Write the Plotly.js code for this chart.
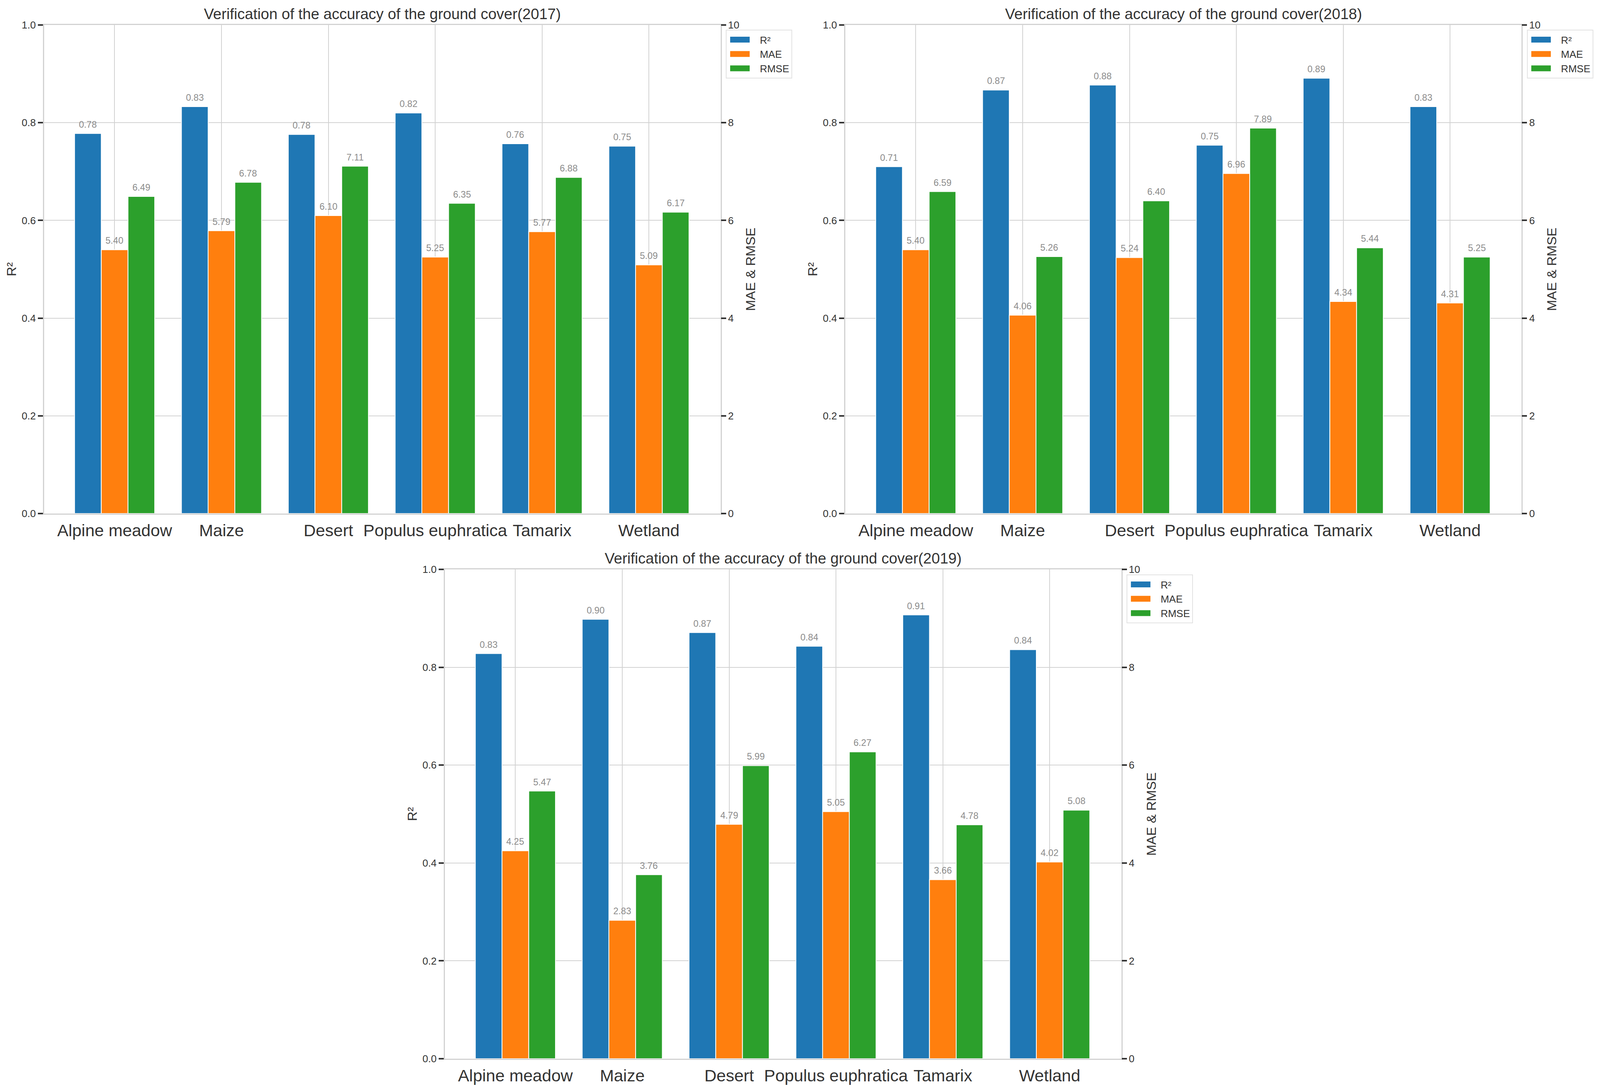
<!DOCTYPE html>
<html>
<head>
<meta charset="utf-8">
<script src="https://cdn.plot.ly/plotly-3.0.1.min.js"></script>
<style>
  html, body { margin: 0; padding: 0; background: #fff; overflow: hidden; }
</style>
</head>
<body>
<div id="chart"></div>
<script>
var categories = ['Alpine meadow', 'Maize', 'Desert', 'Populus euphratica', 'Tamarix', 'Wetland'];
var years = ['2017', '2018', '2019'];

var r2_2017 = [0.778, 0.833, 0.776, 0.820, 0.757, 0.752];
var mae_2017 = [5.40, 5.79, 6.10, 5.25, 5.77, 5.09];
var rmse_2017 = [6.49, 6.78, 7.11, 6.35, 6.88, 6.17];

var r2_2018 = [0.710, 0.867, 0.877, 0.754, 0.891, 0.833];
var mae_2018 = [5.40, 4.06, 5.24, 6.96, 4.34, 4.31];
var rmse_2018 = [6.59, 5.26, 6.40, 7.89, 5.44, 5.25];

var r2_2019 = [0.828, 0.898, 0.871, 0.843, 0.907, 0.836];
var mae_2019 = [4.25, 2.83, 4.79, 5.05, 3.66, 4.02];
var rmse_2019 = [5.47, 3.76, 5.99, 6.27, 4.78, 5.08];

// the browser viewport can come out narrower than the 4208 asked for, so fit to it
var W = Math.min(window.innerWidth, 4208), H = 2786;
var FONT = '"Liberation Sans", Arial, sans-serif';
var blue = '#1f77b4', orange = '#ff7f0e', green = '#2ca02c';
var frame = '#d2d2d2';

// pixel boxes of the three panels in the 4208 wide reference
var panels = [
  {l: 116, r: 1895, t: 64, b: 1315, lx: 1909, ly: 76},
  {l: 2223, r: 4002, t: 64, b: 1315, lx: 4016, ly: 76},
  {l: 1170, r: 2949, t: 1458, b: 2711, lx: 2963, ly: 1471}
];
var series = [
  [r2_2017, mae_2017, rmse_2017],
  [r2_2018, mae_2018, rmse_2018],
  [r2_2019, mae_2019, rmse_2019]
];
var names = ['R²', 'MAE', 'RMSE'];
var colors = [blue, orange, green];
var offsets = [-0.375, -0.125, 0.125];

var data = [];
var annotations = [];
var layout = {
  width: W,
  height: H,
  margin: {l: 0, r: 0, t: 0, b: 0, pad: 0},
  paper_bgcolor: '#fff',
  plot_bgcolor: '#fff',
  barmode: 'overlay',
  font: {family: FONT, color: '#333'},
  annotations: annotations
};

panels.forEach(function (p, i) {
  var xname = i === 0 ? 'x' : 'x' + (i + 1);
  var yLeft = i === 0 ? 'y' : 'y' + (i * 2 + 1);
  var yRight = 'y' + (i * 2 + 2);
  var legendName = i === 0 ? 'legend' : 'legend' + (i + 1);

  series[i].forEach(function (vals, k) {
    var yref = k === 0 ? yLeft : yRight;
    data.push({
      type: 'bar',
      name: names[k],
      x: categories.map(function (c, n) { return n; }),
      y: vals,
      width: 0.25,
      offset: offsets[k],
      xaxis: xname,
      yaxis: yref,
      legend: legendName,
      marker: {color: colors[k], line: {color: '#fff', width: 2}},
      hoverinfo: 'y'
    });
    vals.forEach(function (v, n) {
      annotations.push({
        x: n + offsets[k] + 0.125,
        y: v,
        xref: xname,
        yref: yref,
        text: v.toFixed(2),
        showarrow: false,
        yanchor: 'bottom',
        yshift: 8,
        font: {size: 23.5, color: '#8c8c8c', family: FONT}
      });
    });
  });

  annotations.push({
    xref: 'paper', yref: 'paper',
    x: (p.l + p.r) / 2 / 4208,
    y: 1 - (p.t - 5) / H,
    xanchor: 'center', yanchor: 'bottom',
    showarrow: false,
    text: 'Verification of the accuracy of the ground cover(' + years[i] + ')',
    font: {size: 38.5, color: '#333', family: FONT}
  });

  var domainX = [p.l / 4208, p.r / 4208];
  var domainY = [1 - p.b / H, 1 - p.t / H];

  layout[i === 0 ? 'xaxis' : 'xaxis' + (i + 1)] = {
    domain: domainX,
    anchor: yLeft,
    range: [-0.66, 5.67],
    tickmode: 'array',
    tickvals: categories.map(function (c, n) { return n; }),
    ticktext: categories,
    tickangle: 0,
    tickfont: {size: 43, color: '#333'},
    ticks: '',
    ticklabelstandoff: 3,
    showgrid: true,
    gridcolor: frame,
    gridwidth: 2,
    showline: true,
    linecolor: frame,
    linewidth: 3,
    mirror: true,
    zeroline: false
  };
  layout[i === 0 ? 'yaxis' : 'yaxis' + (i * 2 + 1)] = {
    domain: domainY,
    anchor: xname,
    range: [0, 1],
    dtick: 0.2,
    tickformat: '.1f',
    tickfont: {size: 26, color: '#333'},
    ticks: 'outside',
    ticklen: 13,
    tickwidth: 4,
    tickcolor: '#333',
    showgrid: true,
    gridcolor: frame,
    gridwidth: 2,
    showline: true,
    linecolor: frame,
    linewidth: 3,
    mirror: true,
    zeroline: false,
    title: {text: 'R²', font: {size: 34, color: '#333'}, standoff: 4}
  };
  layout['yaxis' + (i * 2 + 2)] = {
    domain: domainY,
    anchor: xname,
    overlaying: yLeft,
    side: 'right',
    range: [0, 10],
    dtick: 2,
    tickfont: {size: 26, color: '#333'},
    ticks: 'outside',
    ticklen: 13,
    tickwidth: 4,
    tickcolor: '#333',
    showgrid: false,
    zeroline: false,
    title: {text: 'MAE &amp; RMSE', font: {size: 34, color: '#333'}, standoff: 17}
  };
  layout[legendName] = {
    x: p.lx / 4208,
    y: 1 - p.ly / H,
    xanchor: 'left',
    yanchor: 'top',
    bgcolor: '#fff',
    bordercolor: '#e2e2e2',
    borderwidth: 2,
    font: {size: 26, color: '#333'},
    itemwidth: 75,
    traceorder: 'normal'
  };
});

// plotly's bar swatch is a fixed 12px square, widen it
function widenSwatches() {
  document.querySelectorAll('.legendpoints path').forEach(function (el) {
    el.setAttribute('d', 'M26,8.5H-26V-8.5H26Z');
    el.setAttribute('transform', 'translate(34,0)');
  });
}

Plotly.newPlot('chart', data, layout, {displayModeBar: false}).then(function (gd) {
  widenSwatches();
  gd.on('plotly_afterplot', widenSwatches);
  setTimeout(widenSwatches, 100);
});
</script>
</body>
</html>
